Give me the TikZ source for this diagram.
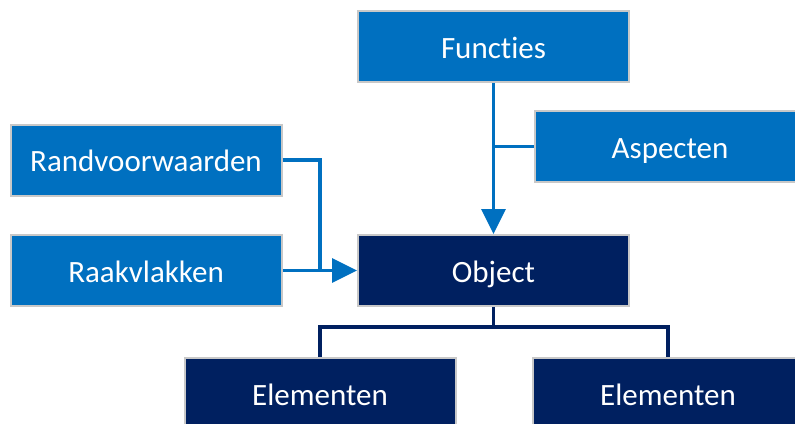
\documentclass[tikz,border=0pt]{standalone}
\usepackage{fontspec}
\setmainfont{Carlito}[Ligatures=NoCommon]
\usetikzlibrary{arrows.meta}
\definecolor{boxblue}{RGB}{0,112,192}
\definecolor{boxnavy}{RGB}{0,32,96}
\definecolor{boxedge}{RGB}{200,200,200}
\tikzset{
  bluebox/.style={draw=boxedge, line width=2pt, fill=boxblue, text=white,
    minimum width=271pt, minimum height=71pt, inner sep=0pt,
    text height=23pt, text depth=0pt,
    font=\fontsize{31}{37}\selectfont},
  navybox/.style={bluebox, fill=boxnavy},
  blueline/.style={draw=boxblue, line width=3.2pt},
  navyline/.style={draw=boxnavy, line width=3.2pt},
  bigarrow/.style={-{Triangle[length=25pt,width=24pt]}},
}
\begin{document}
\begin{tikzpicture}[x=1pt,y=-1pt]
\useasboundingbox (0,0) rectangle (795,423);
\clip (0,0) rectangle (795,423);
\node[bluebox] (functies) at (493.5,46.5) {Functies};
\node[bluebox] (aspecten) at (670,146.5) {Aspecten};
\node[bluebox] (rand) at (146,160) {Randvoorwaarden};
\node[bluebox] (raak) at (146,270.5) {Raakvlakken};
\node[navybox] (object) at (493.5,270.5) {Object};
\node[navybox] (el1) at (320,393.5) {Elementen};
\node[navybox] (el2) at (668,393.5) {Elementen};
\coordinate (jtop) at (493.5,146.5);
\coordinate (jleft) at (320,270.5);
\coordinate (jbot) at (493.5,327);
\draw[blueline, bigarrow] (functies.south) -- (object.north);
\draw[blueline] (aspecten.west) -- (jtop);
\draw[blueline] (rand.east) -| (jleft);
\draw[blueline, bigarrow] (raak.east) -- (object.west);
\draw[navyline] (object.south) -- (jbot) -| (el1.north);
\draw[navyline] (jbot) -| (el2.north);
\end{tikzpicture}
\end{document}
